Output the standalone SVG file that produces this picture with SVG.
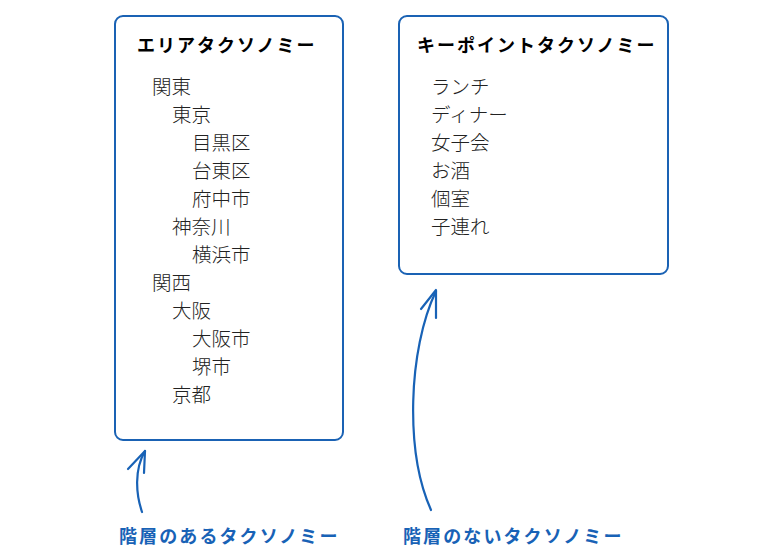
<svg xmlns="http://www.w3.org/2000/svg" width="782" height="560" viewBox="0 0 782 560">
<style>
.box{fill:#fff;stroke:#1a62b4;stroke-width:2}
.title{font-family:"Noto Sans CJK JP","Noto Sans",sans-serif;font-weight:bold;font-size:18px;letter-spacing:2px;fill:#000}
.item{font-family:"Noto Sans CJK JP","Noto Sans",sans-serif;font-weight:300;font-size:19.5px;fill:#222}
.label{font-family:"Noto Sans CJK JP","Noto Sans",sans-serif;font-weight:bold;font-size:18px;letter-spacing:2.1px;fill:#1862b6}
.arrow{fill:none;stroke:#1862b6;stroke-width:2.2;stroke-linecap:round;stroke-linejoin:round}
</style>
<rect width="782" height="560" fill="#fff"/>
<g id="area-taxonomy">
<rect class="box" x="115" y="16" width="228" height="424" rx="8"/>
<text class="title" x="137" y="52">エリアタクソノミー</text>
<text class="item" x="152" y="94">関東</text>
<text class="item" x="172" y="122">東京</text>
<text class="item" x="192" y="150">目黒区</text>
<text class="item" x="192" y="178">台東区</text>
<text class="item" x="192" y="206">府中市</text>
<text class="item" x="172" y="234">神奈川</text>
<text class="item" x="192" y="262">横浜市</text>
<text class="item" x="152" y="290">関西</text>
<text class="item" x="172" y="318">大阪</text>
<text class="item" x="192" y="346">大阪市</text>
<text class="item" x="192" y="374">堺市</text>
<text class="item" x="172" y="402">京都</text>
</g>
<g id="keypoint-taxonomy">
<rect class="box" x="399" y="16" width="269" height="258" rx="8"/>
<text class="title" x="417" y="52">キーポイントタクソノミー</text>
<text class="item" x="431" y="94">ランチ</text>
<text class="item" x="431" y="122">ディナー</text>
<text class="item" x="431" y="150">女子会</text>
<text class="item" x="431" y="178">お酒</text>
<text class="item" x="431" y="206">個室</text>
<text class="item" x="431" y="234">子連れ</text>
</g>
<g id="label-hierarchical">
<text class="label" x="119" y="543">階層のあるタクソノミー</text>
</g>
<g id="label-flat">
<text class="label" x="403" y="543">階層のないタクソノミー</text>
</g>
<g id="connectors">
<path class="arrow" d="M142,512 C136,494 134,470 145,451"/>
<path class="arrow" d="M128,469 L145,451 L144,473"/>
<path class="arrow" d="M431,510 C405,452 408,350 436,291"/>
<path class="arrow" d="M421,309 L436,290 L436,318"/>
</g>
</svg>
